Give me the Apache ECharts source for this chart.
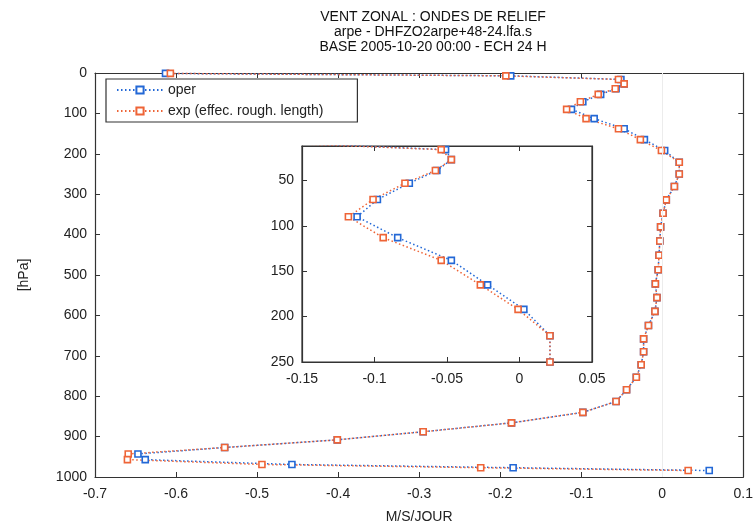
<!DOCTYPE html>
<html>
<head>
<meta charset="utf-8">
<script src="https://cdn.jsdelivr.net/npm/echarts@6/dist/echarts.min.js"></script>
<style>
  html, body { margin: 0; padding: 0; background: #fff; }
  #chart { width: 756px; height: 529px; }
</style>
</head>
<body>
<div id="chart"></div>
<script>
// model levels (hPa) and zonal wind tendency (M/S/JOUR) for both runs
var levels = [1, 7, 16, 27, 39, 53, 71, 90, 113, 138,
              165, 192, 221, 250, 281, 314, 347, 381, 416, 451,
              487, 522, 556, 590, 625, 658, 690, 722, 753, 784,
              813, 840, 866, 888, 908, 927, 943, 957, 969, 977, 984];
var operWind = [-0.613, -0.187, -0.051, -0.047, -0.057, -0.076, -0.098, -0.112, -0.084, -0.047,
                -0.022, 0.003, 0.021, 0.021, 0.015, 0.005, 0.001, -0.002, -0.003, -0.004,
                -0.005, -0.0085, -0.0065, -0.009, -0.017, -0.023, -0.023, -0.026, -0.032, -0.044,
                -0.057, -0.098, -0.186, -0.295, -0.401, -0.540, -0.647, -0.638, -0.457, -0.184, 0.058];
var expWind = [-0.607, -0.193, -0.054, -0.047, -0.058, -0.079, -0.101, -0.118, -0.094, -0.054,
               -0.027, -0.001, 0.021, 0.021, 0.015, 0.005, 0.001, -0.002, -0.003, -0.004,
               -0.005, -0.0085, -0.0065, -0.009, -0.017, -0.023, -0.023, -0.026, -0.032, -0.044,
               -0.057, -0.098, -0.186, -0.295, -0.401, -0.540, -0.659, -0.660, -0.494, -0.224, 0.032];
var seriesNames = ['oper', 'exp (effec. rough. length)'];
var insetYTicks = [50, 100, 150, 200, 250];

var FONT = 'Liberation Sans';
var AXIS = '#333';
var BLUE = '#2368d6';
var ORANGE = '#ee6437';

function pairs(vals) {
    var out = [];
    for (var i = 0; i < levels.length; i++) {
        out.push([vals[i], levels[i]]);
    }
    return out;
}

function fmt(v) { return String(+v.toFixed(3)); }

function xAx(grid, pos, min, max, step, labels, name) {
    return {
        type: 'value', gridIndex: grid, position: pos,
        min: min, max: max, interval: step,
        name: name || '', nameLocation: 'middle', nameGap: 33,
        nameTextStyle: { fontFamily: FONT, fontSize: 14, color: '#222' },
        axisLine: { show: true, onZero: false, lineStyle: { color: AXIS, width: 1.2 } },
        axisTick: { show: true, inside: true, length: 5, lineStyle: { color: AXIS } },
        axisLabel: { show: labels, margin: 10, fontFamily: FONT, fontSize: 14, color: '#222', formatter: fmt },
        splitLine: { show: false }
    };
}

function yAx(grid, pos, min, max, step, labels, name, custom) {
    var ax = {
        type: 'value', gridIndex: grid, position: pos, inverse: true,
        min: min, max: max,
        name: name || '', nameLocation: 'middle', nameGap: 64,
        nameTextStyle: { fontFamily: FONT, fontSize: 14, color: '#222' },
        axisLine: { show: true, onZero: false, lineStyle: { color: AXIS, width: 1.2 } },
        axisTick: { show: true, inside: true, length: 5, lineStyle: { color: AXIS } },
        axisLabel: { show: labels, margin: 8, fontFamily: FONT, fontSize: 14, color: '#222', formatter: fmt },
        splitLine: { show: false }
    };
    if (custom) {
        ax.axisTick.customValues = custom;
        ax.axisLabel.customValues = custom;
    } else {
        ax.interval = step;
    }
    return ax;
}

function line(name, vals, color, xi, yi) {
    return {
        name: name, type: 'line', xAxisIndex: xi, yAxisIndex: yi,
        data: pairs(vals),
        symbol: 'rect', symbolSize: 6,
        color: color,
        itemStyle: { color: '#fff', borderColor: color, borderWidth: 1.6 },
        lineStyle: { color: color, width: 1.5, type: [1.5, 2.5] },
        animation: false
    };
}

var myChart = echarts.init(document.getElementById('chart'));

var option = {
    backgroundColor: '#fff',
    animation: false,
    title: {
        text: 'VENT ZONAL : ONDES DE RELIEF\narpe - DHFZO2arpe+48-24.lfa.s\nBASE 2005-10-20 00:00 - ECH 24 H',
        left: 428, top: 5, textAlign: 'center',
        textStyle: { fontFamily: FONT, fontSize: 14, fontWeight: 'normal', lineHeight: 15, color: '#111' }
    },
    legend: {
        data: seriesNames,
        orient: 'vertical',
        left: 106, top: 79,
        padding: [4, 34, 4, 10],
        itemGap: 7, itemWidth: 46, itemHeight: 9,
        borderColor: '#333', borderWidth: 1.2,
        backgroundColor: '#fff',
        textStyle: { fontFamily: FONT, fontSize: 14, lineHeight: 14, color: '#222' }
    },
    grid: [
        { left: 95, right: 11, top: 73, bottom: 49 },
        { left: 302, top: 146, width: 290, height: 216, show: true, backgroundColor: '#fff',
          borderWidth: 1.2, borderColor: AXIS }
    ],
    xAxis: [
        xAx(0, 'bottom', -0.7, 0.1, 0.1, true, 'M/S/JOUR'),
        xAx(0, 'top', -0.7, 0.1, 0.1, false),
        xAx(1, 'bottom', -0.15, 0.05, 0.05, true),
        xAx(1, 'top', -0.15, 0.05, 0.05, false)
    ],
    yAxis: [
        yAx(0, 'left', 0, 1000, 100, true, '[hPa]'),
        yAx(0, 'right', 0, 1000, 100, false),
        yAx(1, 'left', 12, 250, null, true, '', insetYTicks),
        yAx(1, 'right', 12, 250, null, false, '', insetYTicks)
    ],
    series: [
        line(seriesNames[0], operWind, BLUE, 0, 0),
        line(seriesNames[1], expWind, ORANGE, 0, 0),
        line(seriesNames[0], operWind, BLUE, 2, 2),
        line(seriesNames[1], expWind, ORANGE, 2, 2)
    ]
};

// faint zero line on the main panel
option.series[0].markLine = {
    silent: true, symbol: 'none', label: { show: false },
    lineStyle: { color: '#ececec', type: 'solid', width: 1 },
    data: [{ xAxis: 0 }]
};

myChart.setOption(option);
</script>
</body>
</html>
